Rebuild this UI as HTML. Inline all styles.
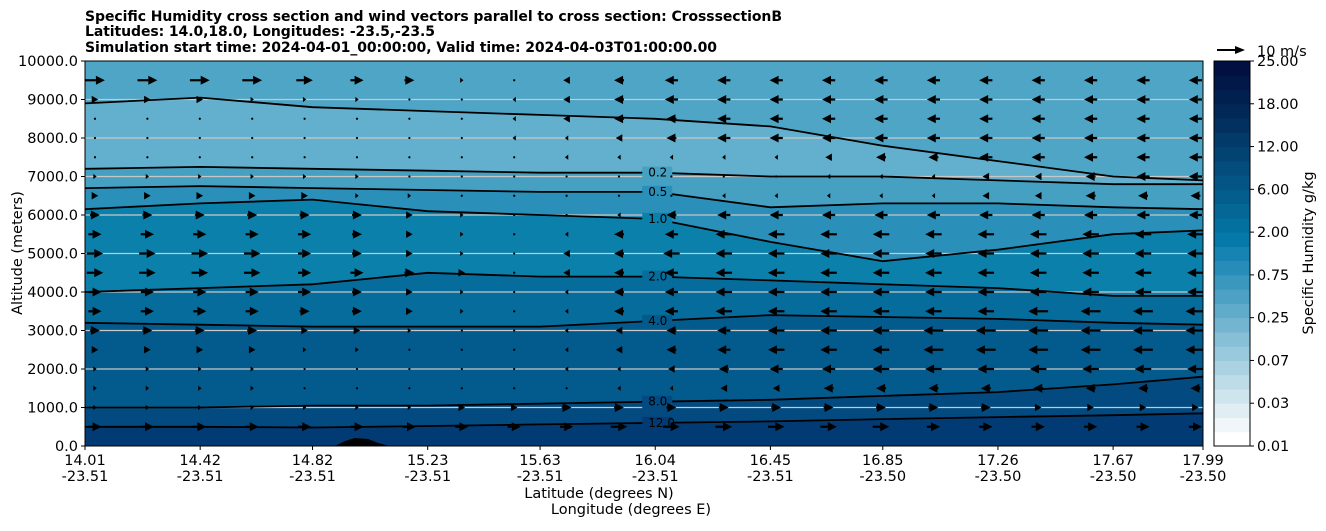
<!DOCTYPE html>
<html><head><meta charset="utf-8"><style>
body{margin:0;background:#fff;font-family:"Liberation Sans","DejaVu Sans",sans-serif}
svg text{font-family:"DejaVu Sans","Liberation Sans",sans-serif}
</style></head><body>
<svg id="c" width="1326" height="526" viewBox="0 0 1326 526">
<text x="85" y="21" font-size="14" font-weight="bold" textLength="697">Specific Humidity cross section and wind vectors parallel to cross section: CrosssectionB</text>
<text x="85" y="36" font-size="14" font-weight="bold" textLength="350">Latitudes: 14.0,18.0, Longitudes: -23.5,-23.5</text>
<text x="85" y="52" font-size="14" font-weight="bold" textLength="632">Simulation start time: 2024-04-01_00:00:00, Valid time: 2024-04-03T01:00:00.00</text>
<g id="plot"></g>
<g id="cbar"></g>
<text x="22" y="253" font-size="14.5" transform="rotate(-90 22 253)" text-anchor="middle">Altitude (meters)</text>
<text x="599" y="498" font-size="14.5" text-anchor="middle">Latitude (degrees N)</text>
<text x="631" y="514" font-size="14.5" text-anchor="middle">Longitude (degrees E)</text>
<text x="1313" y="253" font-size="14.5" transform="rotate(-90 1313 253)" text-anchor="middle">Specific Humidity g/kg</text>
</svg>
<script>
const xLats=[14.01,14.42,14.82,15.23,15.63,16.04,16.45,16.85,17.26,17.67,17.99];
const xLons=["-23.51","-23.51","-23.51","-23.51","-23.51","-23.51","-23.51","-23.50","-23.50","-23.50","-23.50"];
const yTicks=[0,1000,2000,3000,4000,5000,6000,7000,8000,9000,10000];
const contourLevels=["0.1","0.2","0.5","1.0","2.0","4.0","8.0","12.0"];
const contourAlt=[
 [8900,9050,8800,8700,8600,8500,8300,7800,7400,7000,6900],
 [7200,7250,7200,7150,7100,7100,7000,7000,6900,6800,6800],
 [6700,6750,6700,6650,6600,6600,6200,6300,6300,6200,6150],
 [6150,6300,6400,6100,6000,5900,5300,4800,5100,5500,5600],
 [4000,4100,4200,4500,4400,4400,4300,4200,4100,3900,3900],
 [3200,3150,3100,3100,3100,3250,3400,3350,3300,3200,3150],
 [1000,1000,1050,1050,1100,1150,1200,1300,1400,1600,1800],
 [500,500,480,520,560,600,640,700,750,800,850]];
const bandColors=["#4ea5c5","#62b0cd","#45a0c2","#2a8fb9","#0b80aa","#056c9c","#035a8d","#024a80","#023a73"];
const windRowsAlt=[9500,9000,8500,8000,7500,7000,6500,6000,5500,5000,4500,4000,3500,3000,2500,2000,1500,1000,500];
const windU=[
 [6,6,6,6,5,4,3,1,0,-2,-3,-4,-4,-4,-4,-4,-4,-4,-4,-4,-4,-4],
 [2,2,2,1,1,1,0,0,-1,-2,-3,-4,-4,-4,-4,-4,-4,-4,-4,-4,-4,-4],
 [0,0,0,0,0,0,0,0,-1,-2,-3,-3,-4,-4,-4,-4,-4,-4,-4,-4,-4,-4],
 [0,0,0,0,0,0,0,0,-1,-1,-2,-3,-4,-4,-4,-4,-4,-4,-4,-4,-4,-4],
 [0,0,0,0,0,0,0,0,0,-1,-1,-1,-1,-1,-2,-3,-3,-4,-4,-4,-4,-4],
 [1,1,1,1,1,1,0,0,0,0,0,0,0,0,-1,-1,-1,-2,-2,-3,-4,-4],
 [2,2,2,2,2,1,1,0,0,0,0,0,-1,-1,-1,-1,-1,-2,-2,-3,-3,-3],
 [3,3,3,3,3,3,2,1,0,0,-1,-3,-4,-4,-4,-4,-4,-4,-4,-4,-4,-4],
 [4,4,4,4,4,3,2,1,0,-1,-3,-4,-5,-5,-5,-5,-5,-5,-5,-5,-5,-5],
 [5,5,5,5,4,3,2,1,0,-2,-3,-5,-5,-5,-5,-5,-5,-5,-5,-5,-5,-5],
 [5,5,5,5,4,4,3,2,0,-2,-3,-4,-5,-5,-5,-5,-5,-5,-5,-5,-5,-5],
 [4,4,4,4,4,3,2,1,0,-1,-3,-4,-5,-5,-5,-5,-5,-5,-5,-5,-5,-5],
 [4,4,4,4,3,3,2,1,0,-1,-3,-4,-5,-5,-5,-5,-5,-5,-6,-6,-6,-6],
 [3,3,3,3,2,2,1,0,0,-1,-2,-3,-4,-5,-5,-5,-6,-6,-6,-6,-6,-6],
 [2,2,2,2,1,1,0,0,0,-1,-2,-3,-4,-5,-5,-5,-6,-6,-6,-6,-6,-6],
 [1,1,1,1,0,0,0,0,0,-1,-1,-2,-3,-4,-4,-5,-5,-5,-5,-5,-5,-5],
 [1,1,1,1,0,0,0,0,0,0,-1,-1,-2,-2,-3,-3,-3,-3,-3,-3,-3,-3],
 [1,1,1,1,1,1,1,2,2,3,3,3,3,3,3,3,3,3,2,2,2,2],
 [4,4,4,4,4,4,4,4,4,4,5,5,5,5,5,5,4,4,4,4,4,4]];
const cbarTicks=["25.00","18.00","12.00","6.00","2.00","0.75","0.25","0.07","0.03","0.01"];
const cbarColors=["#ffffff","#f0f6f9","#e0eef4","#cfe5ee","#bddce8","#abd2e2","#99c9dc","#86bfd6","#73b5d0","#60abca","#4da1c4","#3a97be","#278db8","#1683b2","#0579a8","#04709f","#046796","#045e8d","#045584","#034c7b","#034372","#023a69","#023160","#022857","#01204f","#011848","#011040"];

const NS="http://www.w3.org/2000/svg";
const X0=85,X1=1203,Y0=446,Y1=61;
const xs=v=>X0+(v-xLats[0])/(xLats[xLats.length-1]-xLats[0])*(X1-X0);
const ys=a=>Y0-a/10000*(Y0-Y1);
function mk(t,a,p){const e=document.createElementNS(NS,t);for(const k in a)e.setAttribute(k,a[k]);(p||plot).appendChild(e);return e;}
const plot=document.getElementById('plot'),cb=document.getElementById('cbar');
const clip=mk('clipPath',{id:'pc'});mk('rect',{x:X0,y:Y1,width:X1-X0,height:Y0-Y1},clip);
const g=mk('g',{'clip-path':'url(#pc)'});
let bg=mk('rect',{x:X0,y:Y1,width:X1-X0,height:Y0-Y1,fill:bandColors[0]},g);


function linePts(arr){return arr.map((a,i)=>xs(xLats[i]).toFixed(1)+','+ys(a).toFixed(1)).join(' ');}
contourAlt.forEach((arr,k)=>{
 const p=mk('polygon',{points:linePts(arr)+` ${X1},${Y0} ${X0},${Y0}`,fill:bandColors[k+1]},g);
 
 
});
const tb=mk('polygon',{points:`335,${Y0} 345,${Y0-5} 355,${Y0-8} 368,${Y0-7} 378,${Y0-3} 390,${Y0}`,fill:'#000'},g);


yTicks.forEach(t=>{if(t>0&&t<10000){const l=mk('line',{x1:X0,x2:X1,y1:ys(t),y2:ys(t),stroke:'#c8c8c8','stroke-width':1.2},g);
 
 }});
contourAlt.forEach((arr,k)=>{
 const l=mk('polyline',{points:linePts(arr),fill:'none',stroke:'#000','stroke-width':1.8},g);
 
 
 if(k>0){const i=5;const tx=xs(xLats[i])-7,ty=ys(arr[i])+4;
  mk('rect',{x:tx-6,y:ty-10,width:30,height:13,fill:bandColors[k+1]},g);
  const t=mk('text',{x:tx,y:ty,'font-size':12},g);t.textContent=contourLevels[k];
  
  }
});
windRowsAlt.forEach((alt,r)=>{windU[r].forEach((u,c)=>{
 const cx=X0+10+c*52.4,cy=ys(alt);const L=u*3.3;
 const a=mk('g',{},g);
 
 
 if(Math.abs(u)<0.5){mk('circle',{cx,cy,r:1.1,fill:'#000'},a);return;}
 const s=Math.sign(L),tip=cx+L/2,base=cx-L/2,hl=Math.min(Math.abs(L),9),h=hl*s,hw=Math.min(4.5,1.5+hl*0.35);
 mk('line',{x1:base,y1:cy,x2:tip-h,y2:cy,stroke:'#000','stroke-width':2.2},a);
 mk('polygon',{points:`${tip},${cy} ${tip-h},${cy-hw} ${tip-h},${cy+hw}`,fill:'#000'},a);
});});
mk('rect',{x:X0,y:Y1,width:X1-X0,height:Y0-Y1,fill:'none',stroke:'#000','stroke-width':1});
yTicks.forEach(t=>{mk('line',{x1:X0-4,x2:X0,y1:ys(t),y2:ys(t),stroke:'#000'});
 const tx=mk('text',{x:X0-7,y:ys(t)+5,'font-size':14.5,'text-anchor':'end'});tx.textContent=t.toFixed(1);
 
 });
xLats.forEach((v,i)=>{const x=xs(v);mk('line',{x1:x,x2:x,y1:Y0,y2:Y0+4,stroke:'#000'});
 const t1=mk('text',{x,y:Y0+19,'font-size':14.5,'text-anchor':'middle'});t1.textContent=v.toFixed(2);
 
 
 const t2=mk('text',{x,y:Y0+35,'font-size':14.5,'text-anchor':'middle'});t2.textContent=xLons[i];
 
 });
mk('line',{x1:1217,x2:1236,y1:50,y2:50,stroke:'#000','stroke-width':2});
mk('polygon',{points:'1245,50 1235,46 1235,54',fill:'#000'});
const qk=mk('text',{x:1257,y:56,'font-size':14.5});qk.textContent='10 m/s';


const CX=1214,CW=36,n=cbarColors.length,bh=(Y0-Y1)/n;
cbarColors.forEach((c,i)=>{const r=mk('rect',{x:CX,y:Y0-(i+1)*bh,width:CW,height:bh+0.5,fill:c},cb);
 
 });
mk('rect',{x:CX,y:Y1,width:CW,height:Y0-Y1,fill:'none',stroke:'#000'},cb);
cbarTicks.forEach((t,i)=>{const y=Y1+i*(Y0-Y1)/(cbarTicks.length-1);
 mk('line',{x1:CX+CW,x2:CX+CW+4,y1:y,y2:y,stroke:'#000'},cb);
 const tx=mk('text',{x:CX+CW+7,y:y+5,'font-size':14.5},cb);tx.textContent=t;
 
 });
</script>
</body></html>
